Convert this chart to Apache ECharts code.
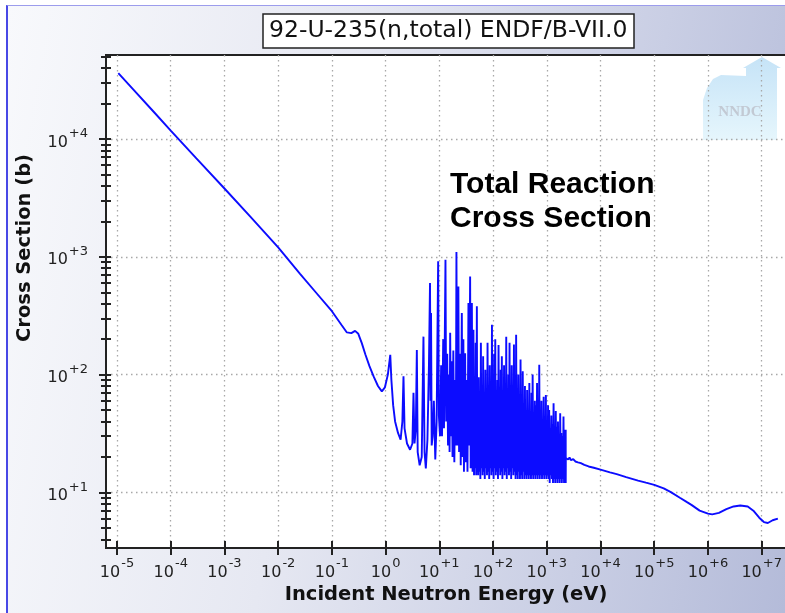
<!DOCTYPE html>
<html>
<head>
<meta charset="utf-8">
<script src="https://cdn.jsdelivr.net/npm/echarts@6/dist/echarts.min.js"></script>
<style>
  html, body { margin: 0; padding: 0; background: #fff; }
  #wrap { position: relative; width: 785px; height: 613px; overflow: hidden; }
  #frame {
    position: absolute; left: 6px; top: 5px; right: 0; bottom: 0;
    border-left: 2px solid #4848e6; border-top: 1px solid #9c9cec;
    background: linear-gradient(100deg, #f8f9fc 0%, #e6e8f2 40%, #c9cee4 75%, #b4bbd9 100%);
  }
  #main { position: absolute; left: 0; top: 0; width: 785px; height: 613px; }
</style>
</head>
<body>
<div id="wrap">
  <div id="frame"></div>
  <div id="main"></div>
</div>
<script>
  // energy (eV), cross section (b)

  // 1/v part up to the first resonance
  const thermal = [
    [1.057e-5, 36300], [2e-5, 26400], [5e-5, 16700], [1e-4, 11800], [3e-4, 6850],
    [1e-3, 3800], [3e-3, 2200], [1e-2, 1200], [0.0253, 720], [0.05, 500],
    [0.1, 345], [0.15, 265], [0.19, 228], [0.23, 225], [0.27, 235], [0.31, 222],
    [0.36, 185], [0.42, 148], [0.5, 118], [0.6, 96], [0.72, 80], [0.85, 72], [0.97, 78]
  ]

  // separated resonances 1 - 50 eV
  const lowResonances = [
    [1.1, 100], [1.22, 147], [1.28, 90], [1.38, 55], [1.5, 40], [1.7, 32], [1.9, 28],
    [2.05, 40], [2.15, 97], [2.25, 35], [2.5, 26], [2.85, 23], [3.15, 26], [3.3, 70],
    [3.45, 26], [3.65, 35], [3.81, 162], [3.95, 22], [4.3, 17], [4.7, 20], [5.06, 210],
    [5.3, 22], [5.6, 16], [6.0, 28], [6.4, 120], [6.7, 600], [6.85, 60], [7.0, 333],
    [7.2, 25], [7.5, 30], [7.9, 60], [8.4, 19], [8.9, 40], [9.5, 916], [9.8, 45],
    [10.3, 30], [10.8, 120], [11.2, 30], [11.8, 200], [12.2, 35], [13.0, 944], [13.4, 40],
    [14.0, 150], [14.5, 25], [15.2, 100], [15.5, 22], [15.9, 227], [16.4, 30], [17.0, 130],
    [17.6, 20], [18.2, 160], [19.0, 18], [19.7, 90], [20.3, 25], [20.8, 1100], [21.5, 25],
    [22.6, 560], [23.3, 22], [24.3, 150], [25.0, 17], [26.2, 333], [26.9, 20], [28.0, 200],
    [28.7, 15], [30.2, 152], [31.0, 18], [32.1, 90], [33.4, 15], [34.8, 405], [35.6, 25],
    [37.4, 680], [38.3, 16], [39.3, 110], [39.8, 20], [40.3, 405], [41.5, 15], [43.1, 240],
    [44.2, 14], [45.3, 90], [46.3, 16], [47.5, 186], [48.5, 14], [49.9, 380], [50.8, 15]
  ]

  // dense resolved region up to 2.25 keV
  const resolved = [
    [51.6, 45], [52.8, 14], [54.0, 95], [55.3, 15], [56.6, 40], [58.0, 13], [59.3, 186], [60.8, 16],
    [62.3, 55], [63.8, 14], [65.3, 143], [66.9, 15], [68.5, 35], [70.1, 13], [71.8, 110], [73.5, 16],
    [75.3, 50], [77.1, 14], [78.9, 186], [80.8, 15], [82.7, 45], [84.7, 13], [86.7, 120], [88.8, 16],
    [90.9, 60], [93.1, 14], [95.3, 265], [97.6, 15], [99.9, 40], [102.3, 13], [104.7, 150], [107.2, 16],
    [109.8, 200], [112.4, 14], [115.1, 55], [117.8, 15], [120.6, 90], [123.5, 13], [126.4, 178], [129.4, 16],
    [132.5, 45], [135.7, 14], [138.9, 110], [142.2, 15], [145.6, 143], [149.1, 13], [152.6, 50], [156.3, 16],
    [160.0, 120], [163.8, 14], [167.7, 60], [171.7, 15], [175.8, 210], [180.0, 13], [184.3, 45], [188.7, 16],
    [193.2, 100], [197.8, 14], [202.5, 186], [207.3, 15], [212.3, 55], [217.3, 13], [222.5, 120], [227.8, 16],
    [233.3, 70], [238.8, 14], [244.5, 180], [250.4, 15], [256.3, 45], [262.5, 13], [268.7, 218], [275.1, 14],
    [281.7, 60], [288.4, 13], [295.3, 100], [302.3, 15], [309.6, 40], [316.9, 13], [324.5, 134], [332.2, 14],
    [340.2, 55], [348.3, 13], [356.6, 107], [365.1, 15], [373.8, 45], [382.7, 13], [391.9, 80], [401.2, 14],
    [410.8, 40], [420.6, 13], [430.6, 74], [440.9, 14], [451.4, 50], [462.2, 13], [473.2, 85], [484.5, 14],
    [496.1, 38], [508.0, 13], [520.1, 70], [532.5, 14], [545.2, 100], [558.2, 13], [571.6, 42], [585.2, 14],
    [599.2, 60], [613.5, 13], [628.1, 55], [643.1, 14], [658.5, 85], [674.2, 13], [690.3, 40], [706.8, 14],
    [723.7, 121], [741.0, 13], [758.6, 45], [776.8, 14], [795.3, 60], [814.3, 13], [833.8, 35], [853.7, 14],
    [874.1, 65], [895.0, 13], [916.4, 40], [938.3, 14], [960.7, 67], [983.6, 13], [1007, 38], [1031, 14],
    [1056, 55], [1081, 13], [1107, 50], [1133, 12], [1160, 35], [1188, 14], [1216, 45], [1245, 13],
    [1275, 38], [1305, 12], [1337, 57], [1369, 13], [1401, 32], [1435, 12], [1469, 49], [1504, 13],
    [1540, 36], [1577, 12], [1615, 40], [1653, 13], [1693, 30], [1733, 12], [1775, 47], [1817, 13],
    [1860, 32], [1905, 12], [1950, 30], [1997, 13], [2045, 44], [2094, 12], [2144, 34], [2195, 12],
    [2248, 34], [2252, 12]
  ]

  // smooth part above 2.25 keV
  const unresolved = [
    [2260, 19.6], [2500, 19.0], [2650, 19.8], [2800, 18.8], [3100, 19.2], [3400, 18.3], [3800, 18.0],
    [4300, 17.7], [5000, 17.1], [6000, 16.6], [7500, 16.2], [1e4, 15.6], [1.5e4, 14.8], [2e4, 14.3],
    [3e4, 13.5], [5e4, 12.6], [7e4, 12.1], [1e5, 11.6], [1.5e5, 10.8], [2e5, 10.1], [3e5, 9.0],
    [4e5, 8.3], [5e5, 7.8], [7e5, 7.0], [1e6, 6.6], [1.2e6, 6.5], [1.6e6, 6.7], [2.2e6, 7.2],
    [3e6, 7.6], [4e6, 7.75], [5.5e6, 7.6], [7e6, 7.0], [9e6, 6.1], [1.1e7, 5.6], [1.3e7, 5.5],
    [1.6e7, 5.8], [2e7, 6.0]
  ]

  // tick exponents and their printed labels
  const xTickExp = [-5, -4, -3, -2, -1, 0, 1, 2, 3, 4, 5, 6, 7]
  const xTickText = ['-5', '-4', '-3', '-2', '-1', '0', '+1', '+2', '+3', '+4', '+5', '+6', '+7']
  const yTickExp = [1, 2, 3, 4]
  const yTickText = ['+1', '+2', '+3', '+4']

  // axis range in decades
  const X_MIN = -5.205, X_MAX = 7.62
  const Y_MIN = 0.528, Y_MAX = 4.713

  // minor ticks at 2..9 x 10^n
  const yMinor = []
  for (let n = 0; n <= 4; n++) {
    for (let k = 2; k <= 9; k++) {
      const v = n + Math.log10(k)
      if (v > Y_MIN && v < Y_MAX) yMinor.push(v)
    }
  }

  const points = thermal.concat(lowResonances, resolved, unresolved)
    .map(([e, s]) => [Math.log10(e), Math.log10(s)])

  const FONT = 'DejaVu Sans'
  const rich = {
    b: { fontSize: 16, lineHeight: 16, padding: [7, 0, 0, 0], color: '#222', fontFamily: FONT },
    s: { fontSize: 13, lineHeight: 13, padding: [0, 0, 10, 1], color: '#222', fontFamily: FONT }
  }
  const tickStyle = { color: '#222', width: 2 }

  const chart = echarts.init(document.getElementById('main'))

  chart.setOption({
    animation: false,
    backgroundColor: 'transparent',
    title: {
      text: '92-U-235(n,total) ENDF/B-VII.0',
      left: 263, top: 14,
      padding: [5, 7, 5, 6],
      backgroundColor: '#fff',
      borderColor: '#222',
      borderWidth: 1.5,
      textStyle: { fontFamily: FONT, fontSize: 23.5, fontWeight: 'normal', color: '#111', lineHeight: 24 }
    },
    grid: {
      left: 106, top: 55, width: 689, height: 493,
      outerBoundsMode: 'none', containLabel: false,
      show: true, backgroundColor: '#fff', borderColor: '#222', borderWidth: 2
    },
    xAxis: [
      {
        type: 'value', min: X_MIN, max: X_MAX, position: 'bottom', z: 3,
        axisLine: { onZero: false, lineStyle: { color: '#222', width: 2 } },
        axisTick: { customValues: xTickExp, length: 7, lineStyle: tickStyle },
        axisLabel: {
          customValues: xTickExp, margin: 13, rich,
          formatter: v => '{b|10}{s|' + xTickText[xTickExp.indexOf(Math.round(v))] + '}'
        },
        splitLine: { show: true, lineStyle: { color: '#a8a8a8', width: 1.3, type: [1.5, 3.5] } }
      },
      {
        type: 'value', min: X_MIN, max: X_MAX, position: 'bottom', z: 3,
        axisLine: { show: false, onZero: false },
        axisTick: { inside: true, customValues: xTickExp, length: 7, lineStyle: tickStyle },
        axisLabel: { show: false },
        splitLine: { show: false }
      }
    ],
    yAxis: [
      {
        type: 'value', min: Y_MIN, max: Y_MAX, position: 'left', z: 3,
        axisLine: { onZero: false, lineStyle: { color: '#222', width: 2 } },
        axisTick: { customValues: yTickExp, length: 7, lineStyle: tickStyle },
        axisLabel: {
          customValues: yTickExp, margin: 18, rich,
          formatter: v => '{b|10}{s|' + yTickText[yTickExp.indexOf(Math.round(v))] + '}'
        },
        splitLine: { show: true, lineStyle: { color: '#a8a8a8', width: 1.3, type: [1.5, 3.5] } }
      },
      {
        type: 'value', min: Y_MIN, max: Y_MAX, position: 'left', z: 3,
        axisLine: { show: false, onZero: false },
        axisTick: { inside: true, customValues: yTickExp.concat(yMinor), length: 5, lineStyle: tickStyle },
        axisLabel: { show: false },
        splitLine: { show: false }
      },
      {
        type: 'value', min: Y_MIN, max: Y_MAX, position: 'left', z: 3,
        axisLine: { show: false, onZero: false },
        axisTick: { customValues: yMinor, length: 5, lineStyle: tickStyle },
        axisLabel: { show: false },
        splitLine: { show: false }
      }
    ],
    graphic: [
      // NNDC watermark
      {
        type: 'polygon', z: 1, silent: true,
        shape: { points: [[703, 140], [703, 100], [707, 88], [713, 79], [721, 75], [746, 76], [746, 68], [743, 68], [762, 57], [781, 68], [777, 68], [777, 140]] },
        style: {
          fill: { type: 'linear', x: 0, y: 0, x2: 0, y2: 1, colorStops: [{ offset: 0, color: '#bfe0f6' }, { offset: 1, color: '#e3f5fc' }] },
          opacity: 0.9
        }
      },
      {
        type: 'text', z: 1, x: 740, y: 112, silent: true,
        style: { text: 'NNDC', fontFamily: 'Liberation Serif', fontWeight: 'bold', fontSize: 15, fill: '#c2c9d3', align: 'center', verticalAlign: 'middle' }
      },
      {
        type: 'text', z: 10, x: 450, y: 168,
        style: { text: 'Total Reaction\nCross Section', fontFamily: 'Liberation Sans', fontWeight: 'bold', fontSize: 30, lineHeight: 34, fill: '#000' }
      },
      {
        type: 'text', z: 10, x: 446, y: 595,
        style: { text: 'Incident Neutron Energy (eV)', fontFamily: FONT, fontWeight: 'bold', fontSize: 19.5, fill: '#111', align: 'center', verticalAlign: 'middle' }
      },
      {
        type: 'text', z: 10, x: 25, y: 248, rotation: Math.PI / 2,
        style: { text: 'Cross Section (b)', fontFamily: FONT, fontWeight: 'bold', fontSize: 19.5, fill: '#111', align: 'center', verticalAlign: 'middle' }
      }
    ],
    series: [
      {
        type: 'line', xAxisIndex: 0, yAxisIndex: 0, z: 5,
        data: points,
        showSymbol: false, symbol: 'none', silent: true,
        lineStyle: { color: '#0c0cff', width: 1.9 }
      }
    ]
  })
</script>
</body>
</html>
